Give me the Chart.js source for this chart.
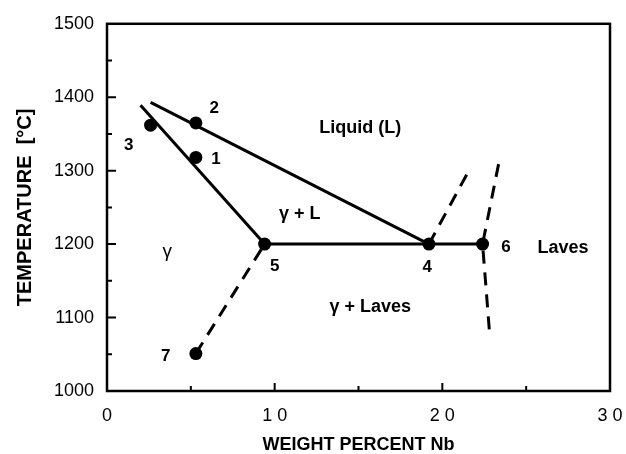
<!DOCTYPE html>
<html>
<head>
<meta charset="utf-8">
<script src="https://cdn.jsdelivr.net/npm/chart.js@4/dist/chart.umd.min.js"></script>
<style>
  html, body { margin: 0; padding: 0; background: #fff; }
  #wrap { width: 626px; height: 454px; }
</style>
</head>
<body>
<div id="wrap"><canvas id="chart"></canvas></div>
<script>
const FONT = '"Liberation Sans", Arial, sans-serif'

// numbered measurement points (wt% Nb, °C)
const pointNames = ['1', '2', '3', '4', '5', '6', '7']
const pointX = [5.3, 5.3, 2.6, 19.2, 9.4, 22.4, 5.3]
const pointT = [1318, 1365, 1362, 1200, 1200, 1200, 1051]
// where the number sits next to each point
const nameX = [6.5, 6.4, 1.3, 19.1, 10.0, 23.8, 3.5]
const nameT = [1316, 1385, 1335, 1168, 1170, 1196, 1047]

// phase boundaries
const solidusX = [2.0, 9.4]
const solidusT = [1389, 1200]
const liquidusX = [2.6, 19.2]
const liquidusT = [1393, 1200]
const eutecticX = [9.4, 19.2, 22.4]
const eutecticT = [1200, 1200, 1200]
const lavesLiquidusX = [19.2, 21.7]
const lavesLiquidusT = [1200, 1305]
const lavesSolvusX = [22.8, 22.4, 23.4]
const lavesSolvusT = [1084, 1200, 1314]
const gammaSolvusX = [5.3, 9.4]
const gammaSolvusT = [1051, 1200]

// phase field labels
const regionText = ['Liquid (L)', 'γ + L', 'γ', 'γ + Laves', 'Laves']
const regionX = [15.1, 11.5, 3.6, 15.7, 27.2]
const regionT = [1358, 1241, 1189, 1114, 1195]

// axis labels
const xLabelValues = [0, 10, 20, 30]
const xLabelText = ['0', '1 0', '2 0', '3 0']

const zip = (xs, ys) => xs.map((x, i) => ({ x, y: ys[i] }))

const boundary = (xs, ys, dashed) => ({
    type: 'line',
    data: zip(xs, ys),
    borderColor: '#000',
    borderWidth: 3,
    borderDash: dashed ? [13, 9] : [],
    borderCapStyle: 'butt',
    pointRadius: 0,
    showLine: true,
    tension: 0,
})

const decorations = {
    id: 'decorations',
    afterDraw(chart) {
        const { ctx, chartArea: a, scales: { x, y } } = chart
        ctx.save()
        ctx.strokeStyle = '#000'
        ctx.lineWidth = 2.5
        ctx.strokeRect(a.left, a.top, a.right - a.left, a.bottom - a.top)

        // inward ticks
        ctx.lineWidth = 2
        ctx.beginPath()
        x.ticks.forEach(t => {
            if (t.value <= x.min || t.value >= x.max) return
            const px = x.getPixelForValue(t.value)
            const len = t.value % 10 === 0 ? 8 : 5
            ctx.moveTo(px, a.bottom)
            ctx.lineTo(px, a.bottom - len)
        })
        y.ticks.forEach(t => {
            if (t.value <= y.min || t.value >= y.max) return
            const py = y.getPixelForValue(t.value)
            const len = t.value % 100 === 0 ? 9 : 5
            ctx.moveTo(a.left, py)
            ctx.lineTo(a.left + len, py)
        })
        ctx.stroke()

        ctx.fillStyle = '#000'
        ctx.textAlign = 'center'
        ctx.textBaseline = 'middle'
        ctx.font = 'bold 17px ' + FONT
        pointNames.forEach((n, i) => {
            ctx.fillText(n, x.getPixelForValue(nameX[i]), y.getPixelForValue(nameT[i]))
        })
        regionText.forEach((s, i) => {
            ctx.font = (s === 'γ' ? '19px ' : 'bold 18px ') + FONT
            ctx.fillText(s, x.getPixelForValue(regionX[i]), y.getPixelForValue(regionT[i]))
        })
        ctx.restore()
    }
}

new Chart(document.getElementById('chart'), {
    type: 'scatter',
    data: {
        datasets: [
            boundary(solidusX, solidusT, false),
            boundary(liquidusX, liquidusT, false),
            boundary(eutecticX, eutecticT, false),
            boundary(lavesLiquidusX, lavesLiquidusT, true),
            boundary(lavesSolvusX, lavesSolvusT, true),
            boundary(gammaSolvusX, gammaSolvusT, true),
            {
                type: 'scatter',
                data: zip(pointX, pointT),
                pointRadius: 6.5,
                pointBackgroundColor: '#000',
                pointBorderWidth: 0,
            },
        ]
    },
    options: {
        responsive: true,
        maintainAspectRatio: false,
        animation: false,
        layout: { padding: { top: 16, right: 0, left: 0, bottom: 0 } },
        plugins: { legend: { display: false }, tooltip: { enabled: false } },
        scales: {
            x: {
                type: 'linear',
                min: 0, max: 30,
                grid: { display: false, drawTicks: false },
                border: { display: false },
                ticks: {
                    stepSize: 5, autoSkip: false, maxRotation: 0, padding: 14,
                    color: '#000', font: { family: FONT, size: 18 },
                    callback: v => {
                        const i = xLabelValues.indexOf(v)
                        return i < 0 ? '' : xLabelText[i]
                    },
                },
                title: {
                    display: true, text: 'WEIGHT PERCENT Nb', color: '#000',
                    font: { family: FONT, size: 18, weight: 'bold', lineHeight: 1 },
                    padding: { top: 0, bottom: 0 },
                },
                afterFit: s => { s.height = 63; s.paddingRight = 16 },
            },
            y: {
                type: 'linear',
                min: 1000, max: 1500,
                grid: { display: false, drawTicks: false },
                border: { display: false },
                ticks: {
                    stepSize: 50, autoSkip: false, padding: 13,
                    color: '#000', font: { family: FONT, size: 18 },
                    callback: v => v % 100 === 0 ? String(v) : '',
                },
                title: {
                    display: true, text: 'TEMPERATURE  [°C]', color: '#000',
                    font: { family: FONT, size: 20, weight: 'bold', lineHeight: 1 },
                    padding: { top: 15, bottom: 0 },
                },
                afterFit: s => { s.width = 107 },
            },
        },
    },
    plugins: [decorations],
})
</script>
</body>
</html>
